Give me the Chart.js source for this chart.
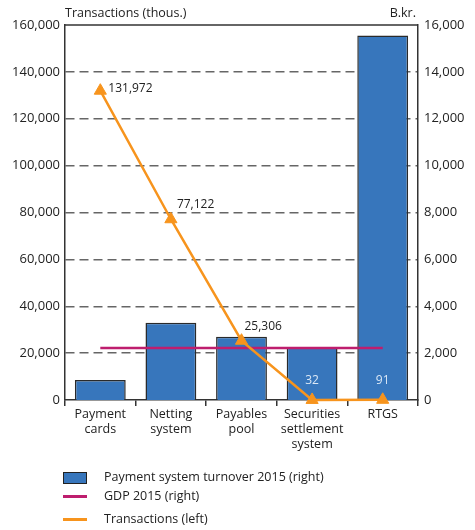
<!DOCTYPE html>
<html><head><meta charset="utf-8">
<script src="https://cdn.jsdelivr.net/npm/chart.js@4"></script>
<style>
html,body{margin:0;padding:0;background:#fff;}
#wrap{position:relative;width:475px;height:530px;font-family:"Open Sans",sans-serif;color:#222;}
canvas{position:absolute;left:0;top:0;}
.leg{position:absolute;left:0;font-size:12.5px;line-height:14px;}
.sym{position:absolute;left:63px;}
.txt{position:absolute;left:104px;white-space:nowrap;}
</style></head>
<body>
<div id="wrap">
<canvas id="c" width="475" height="530"></canvas>
<div class="leg" style="top:470px"><div class="sym" style="top:2px;width:22px;height:10px;background:#3776BC;border:1px solid #222;"></div><div class="txt">Payment system turnover 2015 (right)</div></div>
<div class="leg" style="top:489px"><div class="sym" style="top:6px;width:24px;height:3px;background:#BE1E6E;"></div><div class="txt">GDP 2015 (right)</div></div>
<div class="leg" style="top:512px"><div class="sym" style="top:6px;width:24px;height:3px;background:#F7941D;"></div><div class="txt">Transactions (left)</div></div>
</div>
<script>
const categories = [["Payment","cards"],["Netting","system"],["Payables","pool"],["Securities","settlement","system"],"RTGS"];
const turnover = [850, 3300, 2700, 2250, 15550];
const gdp = [2220, 2220, 2220, 2220, 2220];
const transactions = [131972, 77122, 25306, 32, 91];
const leftTicks = [0,20000,40000,60000,80000,100000,120000,140000,160000];
const rightTicks = [0,2000,4000,6000,8000,10000,12000,14000,16000];

const fmt = v => v.toLocaleString('en-US');
const FONT = "'Open Sans', sans-serif";

const extras = {
  id:'extras',
  afterDraw(chart){
    const ctx = chart.ctx, a = chart.chartArea;
    ctx.save();
    ctx.strokeStyle = '#333'; ctx.lineWidth = 1.5;
    ctx.beginPath(); ctx.moveTo(a.left, a.top); ctx.lineTo(a.right, a.top); ctx.stroke();
    ctx.fillStyle = '#222'; ctx.font = "12.5px " + FONT; ctx.textBaseline = 'alphabetic';
    ctx.textAlign = 'left'; ctx.fillText('Transactions (thous.)', a.left, 17);
    ctx.textAlign = 'right'; ctx.fillText('B.kr.', a.right - 2, 17);
    const meta = chart.getDatasetMeta(2);
    const offs = [[8,-2,'left','#222'],[6,-15,'left','#222'],[3,-14,'left','#222'],[0,-19,'center','#dbe8f6'],[0,-19,'center','#dbe8f6']];
    ctx.font = "12px " + FONT;
    meta.data.forEach((p,i)=>{
      const o = offs[i];
      ctx.fillStyle = o[3]; ctx.textAlign = o[2]; ctx.textBaseline = 'middle';
      ctx.fillText(fmt(transactions[i]), p.x + o[0], p.y + o[1]);
    });
    ctx.restore();
  }
};

new Chart(document.getElementById('c'), {
  data: {
    labels: categories,
    datasets: [
      {type:'bar', label:'Payment system turnover 2015 (right)', data:turnover, yAxisID:'yR',
       backgroundColor:'#3776BC', borderColor:'#2a2a2a', borderWidth:1.5, borderSkipped:'bottom',
       barPercentage:0.72, categoryPercentage:1, order:3},
      {type:'line', label:'GDP 2015 (right)', data:gdp, yAxisID:'yR', borderColor:'#BE1E6E',
       borderWidth:2.5, pointRadius:0, order:2},
      {type:'line', label:'Transactions (left)', data:transactions, yAxisID:'yL', borderColor:'#F7941D',
       backgroundColor:'#F7941D', borderWidth:2.5, pointStyle:'triangle', pointRadius:7,
       pointBorderWidth:1, pointBorderColor:'#F7941D', order:1, clip:false}
    ]
  },
  options: {
    responsive:false, animation:false,
    layout:{padding:{top:25,left:0,right:0,bottom:0}},
    plugins:{legend:{display:false}, tooltip:{enabled:false}},
    scales:{
      x:{offset:true,
         grid:{offset:true, drawOnChartArea:false, drawTicks:true, tickLength:6, color:'#333', lineWidth:1.5},
         border:{color:'#333', width:1.5},
         ticks:{color:'#222', font:{family:FONT,size:12.5}, padding:1, maxRotation:0, autoSkip:false},
         afterFit(s){ s.height = 130; }},
      yL:{position:'left', min:0, max:160000,
          afterBuildTicks(s){ s.ticks = leftTicks.map(v=>({value:v})); },
          grid:{drawTicks:false, color:c=> (c.tick && (c.tick.value===0||c.tick.value===160000)) ? 'rgba(0,0,0,0)' : '#666', lineWidth:1.5},
          border:{color:'#333', width:1.5, dash:[9,5]},
          ticks:{color:'#222', font:{family:FONT,size:13}, padding:5, callback:v=>fmt(v)},
          afterFit(s){ s.width = 65; }},
      yR:{position:'right', min:0, max:16000,
          afterBuildTicks(s){ s.ticks = rightTicks.map(v=>({value:v})); },
          grid:{display:false, drawTicks:false},
          border:{color:'#333', width:1.5},
          ticks:{color:'#222', font:{family:FONT,size:13}, padding:6, callback:v=>fmt(v)},
          afterFit(s){ s.width = 57; }}
    }
  },
  plugins:[extras]
});
</script>
</body></html>
